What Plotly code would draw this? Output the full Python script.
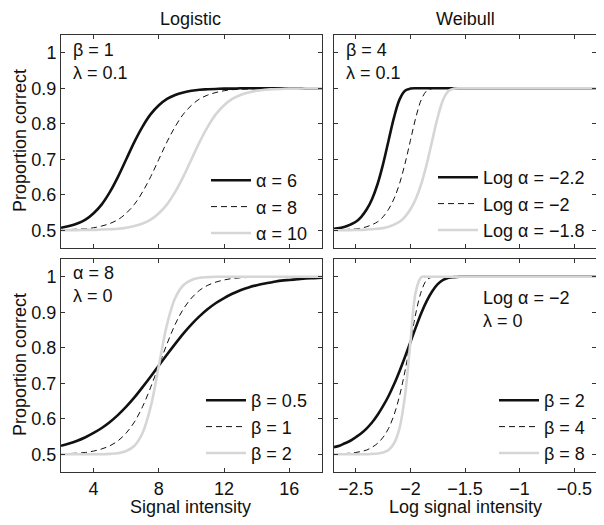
import plotly.graph_objects as go

# ---------------- data ----------------
LOG_X = [2, 2.5, 3, 3.5, 4, 4.5, 5, 5.5, 6, 6.5, 7, 7.5, 8, 8.5, 9, 9.5, 10,
         10.5, 11, 11.5, 12, 12.5, 13, 13.5, 14, 14.5, 15, 15.5, 16, 16.5, 17, 17.5, 18]

# Logistic, beta = 1, lambda = 0.1
LOG_A6 = [0.507, 0.512, 0.519, 0.530, 0.548, 0.573, 0.608, 0.651, 0.700, 0.749, 0.792,
          0.827, 0.852, 0.870, 0.881, 0.888, 0.893, 0.896, 0.897, 0.898, 0.899, 0.899,
          0.900, 0.900, 0.900, 0.900, 0.900, 0.900, 0.900, 0.900, 0.900, 0.900, 0.900]
LOG_A8 = [0.501, 0.502, 0.503, 0.504, 0.507, 0.512, 0.519, 0.530, 0.548, 0.573, 0.608,
          0.651, 0.700, 0.749, 0.792, 0.827, 0.852, 0.870, 0.881, 0.888, 0.893, 0.896,
          0.897, 0.898, 0.899, 0.899, 0.900, 0.900, 0.900, 0.900, 0.900, 0.900, 0.900]
LOG_A10 = [0.500, 0.500, 0.500, 0.501, 0.501, 0.502, 0.503, 0.504, 0.507, 0.512, 0.519,
           0.530, 0.548, 0.573, 0.608, 0.651, 0.700, 0.749, 0.792, 0.827, 0.852, 0.870,
           0.881, 0.888, 0.893, 0.896, 0.897, 0.898, 0.899, 0.899, 0.900, 0.900, 0.900]

# Logistic, alpha = 8, lambda = 0
LOG_B05 = [0.524, 0.530, 0.538, 0.548, 0.560, 0.574, 0.591, 0.611, 0.634, 0.660, 0.689,
           0.719, 0.750, 0.781, 0.811, 0.840, 0.866, 0.889, 0.909, 0.926, 0.940, 0.952,
           0.962, 0.970, 0.976, 0.981, 0.985, 0.989, 0.991, 0.993, 0.995, 0.996, 0.997]
LOG_B1 = [0.501, 0.502, 0.503, 0.505, 0.509, 0.515, 0.524, 0.538, 0.560, 0.591, 0.634,
          0.689, 0.750, 0.811, 0.866, 0.909, 0.940, 0.962, 0.976, 0.985, 0.991, 0.995,
          0.997, 0.998, 0.999, 0.999, 1.000, 1.000, 1.000, 1.000, 1.000, 1.000, 1.000]
LOG_B2 = [0.500, 0.500, 0.500, 0.500, 0.500, 0.500, 0.501, 0.503, 0.509, 0.524, 0.560,
          0.634, 0.750, 0.866, 0.940, 0.976, 0.991, 0.997, 0.999, 1.000, 1.000, 1.000,
          1.000, 1.000, 1.000, 1.000, 1.000, 1.000, 1.000, 1.000, 1.000, 1.000, 1.000]

WEI_X = [-2.70, -2.65, -2.60, -2.55, -2.50, -2.45, -2.40, -2.35, -2.30, -2.25, -2.20,
         -2.15, -2.10, -2.05, -2.00, -1.95, -1.90, -1.85, -1.80, -1.75, -1.70, -1.65,
         -1.60, -1.55, -1.50, -1.25, -1.00, -0.75, -0.50, -0.30]

# Weibull, beta = 4, lambda = 0.1
WEI_A22 = [0.504, 0.506, 0.510, 0.516, 0.524, 0.538, 0.559, 0.589, 0.631, 0.687, 0.753,
           0.818, 0.868, 0.893, 0.899, 0.900, 0.900, 0.900, 0.900, 0.900, 0.900, 0.900,
           0.900, 0.900, 0.900, 0.900, 0.900, 0.900, 0.900, 0.900]
WEI_A20 = [0.501, 0.501, 0.502, 0.503, 0.504, 0.506, 0.510, 0.516, 0.524, 0.538, 0.559,
           0.589, 0.631, 0.687, 0.753, 0.818, 0.868, 0.893, 0.899, 0.900, 0.900, 0.900,
           0.900, 0.900, 0.900, 0.900, 0.900, 0.900, 0.900, 0.900]
WEI_A18 = [0.500, 0.500, 0.500, 0.500, 0.501, 0.501, 0.502, 0.503, 0.504, 0.506, 0.510,
           0.516, 0.524, 0.538, 0.559, 0.589, 0.631, 0.687, 0.753, 0.818, 0.868, 0.893,
           0.899, 0.900, 0.900, 0.900, 0.900, 0.900, 0.900, 0.900]

# Weibull, log alpha = -2, lambda = 0
WEI_B2 = [0.520, 0.524, 0.531, 0.538, 0.548, 0.559, 0.573, 0.590, 0.611, 0.636, 0.664,
          0.697, 0.734, 0.774, 0.816, 0.858, 0.898, 0.932, 0.959, 0.979, 0.991, 0.997,
          0.999, 1.000, 1.000, 1.000, 1.000, 1.000, 1.000, 1.000]
WEI_B4 = [0.501, 0.501, 0.502, 0.503, 0.505, 0.508, 0.512, 0.520, 0.531, 0.548, 0.573,
          0.611, 0.664, 0.734, 0.816, 0.898, 0.959, 0.991, 0.999, 1.000, 1.000, 1.000,
          1.000, 1.000, 1.000, 1.000, 1.000, 1.000, 1.000, 1.000]
WEI_B8 = [0.500, 0.500, 0.500, 0.500, 0.500, 0.500, 0.500, 0.501, 0.502, 0.505, 0.512,
          0.531, 0.573, 0.664, 0.816, 0.959, 0.999, 1.000, 1.000, 1.000, 1.000, 1.000,
          1.000, 1.000, 1.000, 1.000, 1.000, 1.000, 1.000, 1.000]

Y_TICKS = [0.5, 0.6, 0.7, 0.8, 0.9, 1.0]
Y_TICKTEXT = ["0.5", "0.6", "0.7", "0.8", "0.9", "1"]
LOG_XTICKS = [4, 8, 12, 16]
WEI_XTICKS = [-2.5, -2, -1.5, -1, -0.5]
WEI_XTICKTEXT = ["\u22122.5", "\u22122", "\u22121.5", "\u22121", "\u22120.5"]

# ---------------- styling ----------------
FONT = "Liberation Sans, Arial, Helvetica, sans-serif"
FS = 18
BLACK = "#111111"
GRAY = "#d6d6d6"
STYLES = [
    dict(color=BLACK, width=2.6, dash="solid"),
    dict(color=BLACK, width=1, dash="6px,4px"),
    dict(color=GRAY, width=2.6, dash="solid"),
]

# The page body has an 8px margin, so the figure is drawn 8px in from the
# window's top-left corner; size it so it fills the rest of the window.
OFF = 8
W, H = 604 - OFF, 525 - OFF


def px(x):
    """window pixel x -> paper fraction"""
    return (x - OFF) / W


def py(y):
    """window pixel y -> paper fraction"""
    return 1 - (y - OFF) / H


# panel boxes in window pixels
XL = (61, 322)
XR = (334, 596)
YT = (35, 248)
YB = (259, 472)


def xdom(p):
    return [px(p[0]), px(p[1])]


def ydom(p):
    return [py(p[1]), py(p[0])]


fig = go.Figure()

panels = [
    ("x", "y", "legend", LOG_X, [LOG_A6, LOG_A8, LOG_A10],
     ["\u03b1 = 6", "\u03b1 = 8", "\u03b1 = 10"]),
    ("x2", "y2", "legend2", WEI_X, [WEI_A22, WEI_A20, WEI_A18],
     ["Log \u03b1 = \u22122.2", "Log \u03b1 = \u22122", "Log \u03b1 = \u22121.8"]),
    ("x3", "y3", "legend3", LOG_X, [LOG_B05, LOG_B1, LOG_B2],
     ["\u03b2 = 0.5", "\u03b2 = 1", "\u03b2 = 2"]),
    ("x4", "y4", "legend4", WEI_X, [WEI_B2, WEI_B4, WEI_B8],
     ["\u03b2 = 2", "\u03b2 = 4", "\u03b2 = 8"]),
]

for xa, ya, leg, xs, series, names in panels:
    for ys, name, st in zip(series, names, STYLES):
        fig.add_trace(go.Scatter(
            x=xs, y=ys, name=name, mode="lines", xaxis=xa, yaxis=ya,
            legend=leg, line=dict(shape="spline", smoothing=1, **st),
        ))

axis_common = dict(
    showline=True, linecolor="#333333", linewidth=1, mirror="ticks",
    ticks="inside", ticklen=4, tickcolor="#333333", showgrid=False,
    zeroline=False, tickfont=dict(family=FONT, size=FS, color="#111111"),
)

fig.update_layout(
    width=W, height=H, margin=dict(l=0, r=0, t=0, b=0),
    paper_bgcolor="white", plot_bgcolor="white",
    font=dict(family=FONT, size=FS, color="#111111"),
    xaxis=dict(domain=xdom(XL), anchor="y", range=[2, 18], tickvals=LOG_XTICKS,
               showticklabels=False, **axis_common),
    yaxis=dict(domain=ydom(YT), anchor="x", range=[0.45, 1.05], tickvals=Y_TICKS,
               ticktext=Y_TICKTEXT, **axis_common),
    xaxis2=dict(domain=xdom(XR), anchor="y2", range=[-2.7, -0.3], tickvals=WEI_XTICKS,
                showticklabels=False, **axis_common),
    yaxis2=dict(domain=ydom(YT), anchor="x2", range=[0.45, 1.05], tickvals=Y_TICKS,
                showticklabels=False, **axis_common),
    xaxis3=dict(domain=xdom(XL), anchor="y3", range=[2, 18], tickvals=LOG_XTICKS,
                **axis_common),
    yaxis3=dict(domain=ydom(YB), anchor="x3", range=[0.45, 1.05], tickvals=Y_TICKS,
                ticktext=Y_TICKTEXT, **axis_common),
    xaxis4=dict(domain=xdom(XR), anchor="y4", range=[-2.7, -0.3], tickvals=WEI_XTICKS,
                ticktext=WEI_XTICKTEXT, **axis_common),
    yaxis4=dict(domain=ydom(YB), anchor="x4", range=[0.45, 1.05], tickvals=Y_TICKS,
                showticklabels=False, **axis_common),
)

leg_common = dict(bgcolor="rgba(0,0,0,0)", borderwidth=0, itemwidth=40,
                  font=dict(family=FONT, size=FS, color="#111111"),
                  xanchor="right", yanchor="bottom", tracegroupgap=0,
                  itemclick=False, itemdoubleclick=False)
fig.update_layout(
    legend=dict(x=px(312), y=py(252), **leg_common),
    legend2=dict(x=px(590), y=py(249), **leg_common),
    legend3=dict(x=px(312), y=py(472), **leg_common),
    legend4=dict(x=px(590), y=py(472), **leg_common),
)

ann = []
# column titles
ann.append(dict(text="Logistic", x=px(191), y=py(19), xref="paper", yref="paper",
                showarrow=False, xanchor="center", yanchor="middle"))
ann.append(dict(text="Weibull", x=px(466), y=py(19), xref="paper", yref="paper",
                showarrow=False, xanchor="center", yanchor="middle"))
# axis titles
for yc in (141, 365):
    ann.append(dict(text="Proportion correct", x=px(20), y=py(yc), xref="paper",
                    yref="paper", showarrow=False, textangle=-90,
                    xanchor="center", yanchor="middle"))
ann.append(dict(text="Signal intensity", x=px(191), y=py(507), xref="paper",
                yref="paper", showarrow=False, xanchor="center", yanchor="middle"))
ann.append(dict(text="Log signal intensity", x=px(465), y=py(507), xref="paper",
                yref="paper", showarrow=False, xanchor="center", yanchor="middle"))
# parameter labels inside panels
ann.append(dict(text="\u03b2 = 1<br>\u03bb = 0.1", x=0.04, y=0.985, xref="x domain",
                yref="y domain", showarrow=False, xanchor="left", yanchor="top", align="left"))
ann.append(dict(text="\u03b2 = 4<br>\u03bb = 0.1", x=0.04, y=0.985, xref="x2 domain",
                yref="y2 domain", showarrow=False, xanchor="left", yanchor="top", align="left"))
ann.append(dict(text="\u03b1 = 8<br>\u03bb = 0", x=0.04, y=0.99, xref="x3 domain",
                yref="y3 domain", showarrow=False, xanchor="left", yanchor="top", align="left"))
ann.append(dict(text="Log \u03b1 = \u22122<br>\u03bb = 0", x=0.56, y=0.875, xref="x4 domain",
                yref="y4 domain", showarrow=False, xanchor="left", yanchor="top", align="left"))
fig.update_layout(annotations=ann)

fig.write_html("out.html")
